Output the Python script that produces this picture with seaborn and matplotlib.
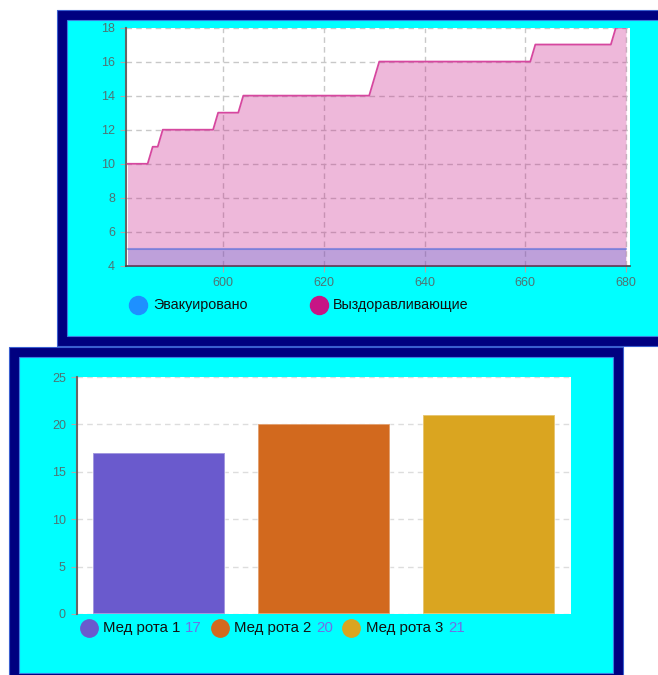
"""Recovery/evacuation step chart and medical company bar chart."""

import pandas as pd
import matplotlib.pyplot as plt
import seaborn as sns
from matplotlib.patches import Rectangle
from matplotlib.lines import Line2D

# Top chart: vertices of the piecewise-linear series
recover_day = [581, 585, 586, 587, 588, 598, 599, 603, 604, 629, 631, 661, 662, 677, 678, 680]
recover_count = [10, 10, 11, 11, 12, 12, 13, 13, 14, 14, 16, 16, 17, 17, 18, 18]
evac_day = [581, 680]
evac_count = [5, 5]
top_labels = ["Эвакуировано", "Выздоравливающие"]

# Bottom chart
companies = ["Мед рота 1", "Мед рота 2", "Мед рота 3"]
company_counts = [17, 20, 21]
company_colors = ["#6a5acd", "#d2691e", "#daa520"]

sns.set_theme(style="white")
plt.rcParams["font.family"] = ["Liberation Sans", "DejaVu Sans"]

W, H = 658, 675
NAVY = "#000080"
CYAN = "#00ffff"
PINK = "#c71585"
BLUE = "#1e90ff"
TICK = "#4f7373"


def fx(x):
    return x / W


def fy(y):
    return 1 - y / H


def ax_rect(x0, y0, x1, y1):
    return [fx(x0), fy(y1), (x1 - x0) / W, (y1 - y0) / H]


def panel(fig, x0, y0, x1, y1, b=10):
    fig.patches.append(Rectangle((fx(x0), fy(y1)), (x1 - x0) / W, (y1 - y0) / H,
                                 transform=fig.transFigure, facecolor=NAVY,
                                 edgecolor="#3a5fd0", linewidth=0.8, zorder=-10))
    fig.patches.append(Rectangle((fx(x0 + b), fy(y1 - b)), (x1 - x0 - 2 * b) / W,
                                 (y1 - y0 - 2 * b) / H, transform=fig.transFigure,
                                 facecolor=CYAN, edgecolor="#3a7fe0", linewidth=0.8,
                                 zorder=-9))


def style_axes(ax):
    ax.set_facecolor("white")
    for s in ["top", "right", "bottom"]:
        ax.spines[s].set_visible(False)
    ax.spines["left"].set_color("#666666")
    ax.spines["left"].set_linewidth(1.5)
    ax.tick_params(axis="both", length=4, width=0.8, color="#aaaaaa",
                   labelsize=9, labelcolor=TICK, pad=4, left=True, bottom=True)
    ax.set_xlabel("")
    ax.set_ylabel("")


fig = plt.figure(figsize=(W / 100, H / 100), dpi=100)
fig.patch.set_facecolor("white")

panel(fig, 57, 10, 680, 346)
panel(fig, 9, 347, 623, 683)

# ---- top chart ----
ax1 = fig.add_axes(ax_rect(126, 27.5, 630, 266))
evac_df = pd.DataFrame({"day": evac_day, "count": evac_count})
rec_df = pd.DataFrame({"day": recover_day, "count": recover_count})

ax1.fill_between(evac_df["day"], 4, evac_df["count"], color=BLUE, alpha=0.3,
                 linewidth=0, zorder=2)
sns.lineplot(data=evac_df, x="day", y="count", ax=ax1, color=BLUE, alpha=0.6,
             linewidth=1.5, zorder=2)
ax1.fill_between(rec_df["day"], 4, rec_df["count"], color=PINK, alpha=0.3,
                 linewidth=0, zorder=3)
sns.lineplot(data=rec_df, x="day", y="count", ax=ax1, color="#d6479f",
             linewidth=1.3, zorder=4)

ax1.set_xlim(580.7, 680.8)
ax1.set_ylim(4, 18)
ax1.set_xticks([600, 620, 640, 660, 680])
ax1.set_yticks(range(4, 19, 2))
ax1.grid(True, color="#c8c8c8", linestyle=(0, (4, 3)), linewidth=1)
ax1.set_axisbelow(True)
style_axes(ax1)
ax1.spines["bottom"].set_visible(True)
ax1.spines["bottom"].set_color("#444444")
ax1.spines["bottom"].set_linewidth(1.2)

for mx, tx, lab, col in [(138, 153, top_labels[0], BLUE),
                         (319, 333, top_labels[1], PINK)]:
    fig.add_artist(Line2D([fx(mx)], [fy(305)], marker="o", markersize=13,
                          linestyle="none", color=col, transform=fig.transFigure))
    fig.text(fx(tx), fy(305), lab, va="center", ha="left", fontsize=10.3,
             color="#111111")

# ---- bottom chart ----
ax2 = fig.add_axes(ax_rect(77, 377, 571, 614))
bar_df = pd.DataFrame({"company": companies, "count": company_counts})
sns.barplot(data=bar_df, x="company", y="count", hue="company",
            palette=company_colors, saturation=1, width=0.8, ax=ax2,
            legend=False, zorder=3)
for patch in ax2.patches:
    patch.set_edgecolor((1, 1, 1, 0.45))
    patch.set_linewidth(1.2)

ax2.set_xlim(-0.5, 2.5)
ax2.set_ylim(0, 25)
ax2.set_yticks(range(0, 26, 5))
ax2.set_xticks([])
ax2.yaxis.grid(True, color="#dddddd", linestyle=(0, (4, 3)), linewidth=1)
ax2.set_axisbelow(True)
style_axes(ax2)
ax2.tick_params(axis="x", bottom=False)

renderer = fig.canvas.get_renderer()
for mx, tx, lab, val, col in zip([89, 220, 351], [103, 234, 366], companies,
                                 company_counts, company_colors):
    fig.add_artist(Line2D([fx(mx)], [fy(628)], marker="o", markersize=12.5,
                          linestyle="none", color=col, transform=fig.transFigure))
    t = fig.text(fx(tx), fy(628), lab, va="center", ha="left", fontsize=10.8,
                 color="#111111")
    ext = t.get_window_extent(renderer)
    fig.text(fx(ext.x1 + 5), fy(628), str(val), va="center", ha="left",
             fontsize=10.8, color="#6f6fe6")

plt.savefig("out.png", dpi=100)
plt.close()
